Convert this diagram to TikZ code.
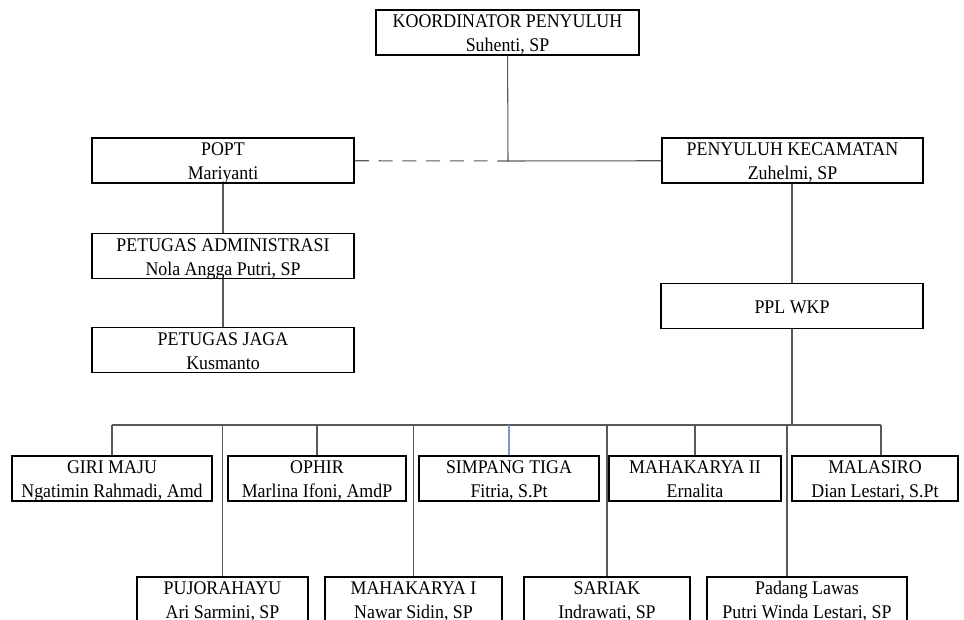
\documentclass[tikz,border=0pt]{standalone}
\usepackage{fontspec}
\setmainfont{Liberation Serif}[FakeStretch=0.925]

\begin{document}
\begin{tikzpicture}[
    x=0.02cm, y=-0.02cm,
    box/.style={rectangle, draw=black, line width=1.1pt, fill=white,
        minimum height=0.9cm, inner sep=0pt, align=center,
        text height=23.6pt, text depth=1.9pt,
        font=\fontsize{11}{13.6}\selectfont},
    edge/.style={draw=black!65, line width=0.6pt, -},
    dashedge/.style={edge, dash pattern=on 8pt off 5.5pt}
]
    \useasboundingbox (0,0) rectangle (964,619);
    \clip (0,0) rectangle (964,619);

    \node[box, minimum width=5.26cm] (koor) at (507.5,32.5) {KOORDINATOR PENYULUH\\Suhenti, SP};
    \node[box, minimum width=5.24cm] (popt) at (223,160.5) {POPT\\Mariyanti};
    \node[box, minimum width=5.22cm] (kec) at (792.5,160.5) {PENYULUH KECAMATAN\\Zuhelmi, SP};
    \node[box, minimum width=5.24cm] (admin) at (223,256) {PETUGAS ADMINISTRASI\\Nola Angga Putri, SP};
    \node[box, minimum width=5.24cm] (jaga) at (223,350) {PETUGAS JAGA\\Kusmanto};
    \node[box, minimum width=5.24cm, text height=17pt, text depth=8.5pt] (ppl) at (792,306) {PPL WKP};

    % desa baris atas
    \node[box, minimum width=4.00cm] (giri) at (112,478.5) {GIRI MAJU\\Ngatimin Rahmadi, Amd};
    \node[box, minimum width=3.56cm] (ophir) at (317,478.5) {OPHIR\\Marlina Ifoni, AmdP};
    \node[box, minimum width=3.60cm] (simpang) at (509,478.5) {SIMPANG TIGA\\Fitria, S.Pt};
    \node[box, minimum width=3.44cm] (maha2) at (695,478.5) {MAHAKARYA II\\Ernalita};
    \node[box, minimum width=3.32cm] (malasiro) at (875,478.5) {MALASIRO\\Dian Lestari, S.Pt};

    % desa baris bawah
    \node[box, minimum width=3.42cm] (pujo) at (222.5,599.5) {PUJORAHAYU\\Ari Sarmini, SP};
    \node[box, minimum width=3.54cm] (maha1) at (413.5,599.5) {MAHAKARYA I\\Nawar Sidin, SP};
    \node[box, minimum width=3.32cm] (sariak) at (607,599.5) {SARIAK\\Indrawati, SP};
    \node[box, minimum width=4.00cm] (padang) at (807,599.5) {Padang Lawas\\Putri Winda Lestari, SP};

    \coordinate (j) at (508,161);
    \coordinate (b1) at (112,425);
    \coordinate (b2) at (222.5,425);
    \coordinate (b3) at (317,425);
    \coordinate (b4) at (413.5,425);
    \coordinate (b5) at (509,425);
    \coordinate (b6) at (607,425);
    \coordinate (b7) at (695,425);
    \coordinate (b8) at (787,425);
    \coordinate (b9) at (881,425);
    \coordinate (bp) at (792,425);

    \draw[edge] (koor) -- (j) -- (kec);
    \draw[dashedge] (popt) -- (j);
    \draw[edge] (popt) -- (admin);
    \draw[edge] (admin) -- (jaga);
    \draw[edge] (kec.south -| ppl) -- (ppl);
    \draw[edge] (ppl) -- (bp);
    \draw[edge] (b1) -- (b9);
    \draw[edge] (b1) -- (giri);
    \draw[edge] (b2) -- (pujo);
    \draw[edge] (b3) -- (ophir);
    \draw[edge] (b4) -- (maha1);
    \draw[edge, draw={rgb,255:red,120;green,150;blue,200}] (b5) -- (simpang);
    \draw[edge] (b6) -- (sariak);
    \draw[edge] (b7) -- (maha2);
    \draw[edge] (b8) -- (b8 |- padang.north);
    \draw[edge] (b9) -- (b9 |- malasiro.north);
\end{tikzpicture}
\end{document}
